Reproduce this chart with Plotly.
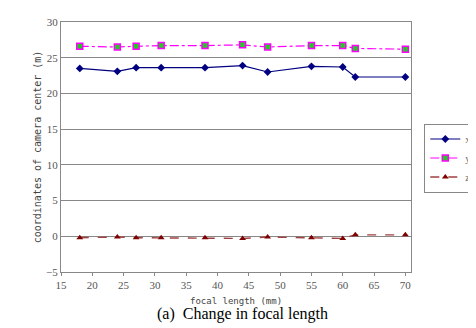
import plotly.graph_objects as go

focal = [18, 24, 27, 31, 38, 44, 48, 55, 60, 62, 70]
x_vals = [23.5, 23.1, 23.6, 23.6, 23.6, 23.9, 23.0, 23.8, 23.7, 22.3, 22.3]
y_vals = [26.6, 26.5, 26.6, 26.7, 26.7, 26.8, 26.5, 26.7, 26.7, 26.3, 26.2]
z_vals = [-0.2, -0.1, -0.2, -0.2, -0.2, -0.3, -0.1, -0.2, -0.3, 0.2, 0.2]
x_ticks = [15, 20, 25, 30, 35, 40, 45, 50, 55, 60, 65, 70]
y_ticks = [-5, 0, 5, 10, 15, 20, 25, 30]

fig = go.Figure()
fig.add_trace(go.Scatter(x=focal, y=x_vals, name="x", mode="lines+markers",
                         line=dict(color="#000080", width=1.2),
                         marker=dict(symbol="diamond", size=6, color="#000080")))
fig.add_trace(go.Scatter(x=focal, y=y_vals, name="y", mode="lines+markers",
                         line=dict(color="#FF00FF", width=1.2, dash="dashdot"),
                         marker=dict(symbol="square", size=6, color="#22CC22",
                                     line=dict(color="#FF00FF", width=1.5))))
fig.add_trace(go.Scatter(x=focal, y=z_vals, name="z", mode="lines+markers",
                         line=dict(color="#A04040", width=1.4, dash="dash"),
                         marker=dict(symbol="triangle-up", size=6, color="#800000")))

tickfont = dict(family="Liberation Serif, serif", size=11, color="#555555")
fig.update_layout(
    width=476, height=328,
    margin=dict(l=53, r=53, t=8, b=64),
    paper_bgcolor="white", plot_bgcolor="white",
    showlegend=True,
    legend=dict(x=1.038, y=0.594, xanchor="left", yanchor="top",
                bordercolor="#888888", borderwidth=1,
                font=dict(family="Liberation Serif, serif", size=10, color="#666666"),
                itemwidth=30, tracegroupgap=0),
    xaxis=dict(range=[15, 70.9], tickvals=x_ticks, tickfont=tickfont,
               showgrid=False, showline=True, linecolor="#888888", mirror=True,
               ticks="outside", ticklen=3, tickcolor="#888888", zeroline=False),
    yaxis=dict(range=[-5, 30], tickvals=y_ticks, tickfont=tickfont,
               showgrid=True, gridcolor="#888888", gridwidth=1,
               showline=True, linecolor="#888888", mirror=True,
               ticks="", zeroline=False),
    annotations=[
        dict(text="focal length (mm)", x=238, y=301, xref="paper", yref="paper",
             showarrow=False, font=dict(family="DejaVu Sans Mono", size=9, color="#444444")),
        dict(text="(a)  Change in focal length", x=245, y=318, xref="paper", yref="paper",
             showarrow=False, font=dict(family="Liberation Serif, serif", size=16, color="#000000")),
        dict(text="coordinates of camera center (m)", x=20, y=136, xref="paper", yref="paper",
             textangle=-90, showarrow=False,
             font=dict(family="DejaVu Sans Mono", size=10, color="#444444")),
    ],
)

# convert pixel-position annotations to paper coords
pw = 476 - 53 - 53
ph = 328 - 8 - 64
new_ann = []
for a in fig.layout.annotations:
    a.x = (a.x - 53) / pw
    a.y = (328 - 64 - a.y) / ph
    new_ann.append(a)
fig.layout.annotations = new_ann

fig.write_html("out.html")
